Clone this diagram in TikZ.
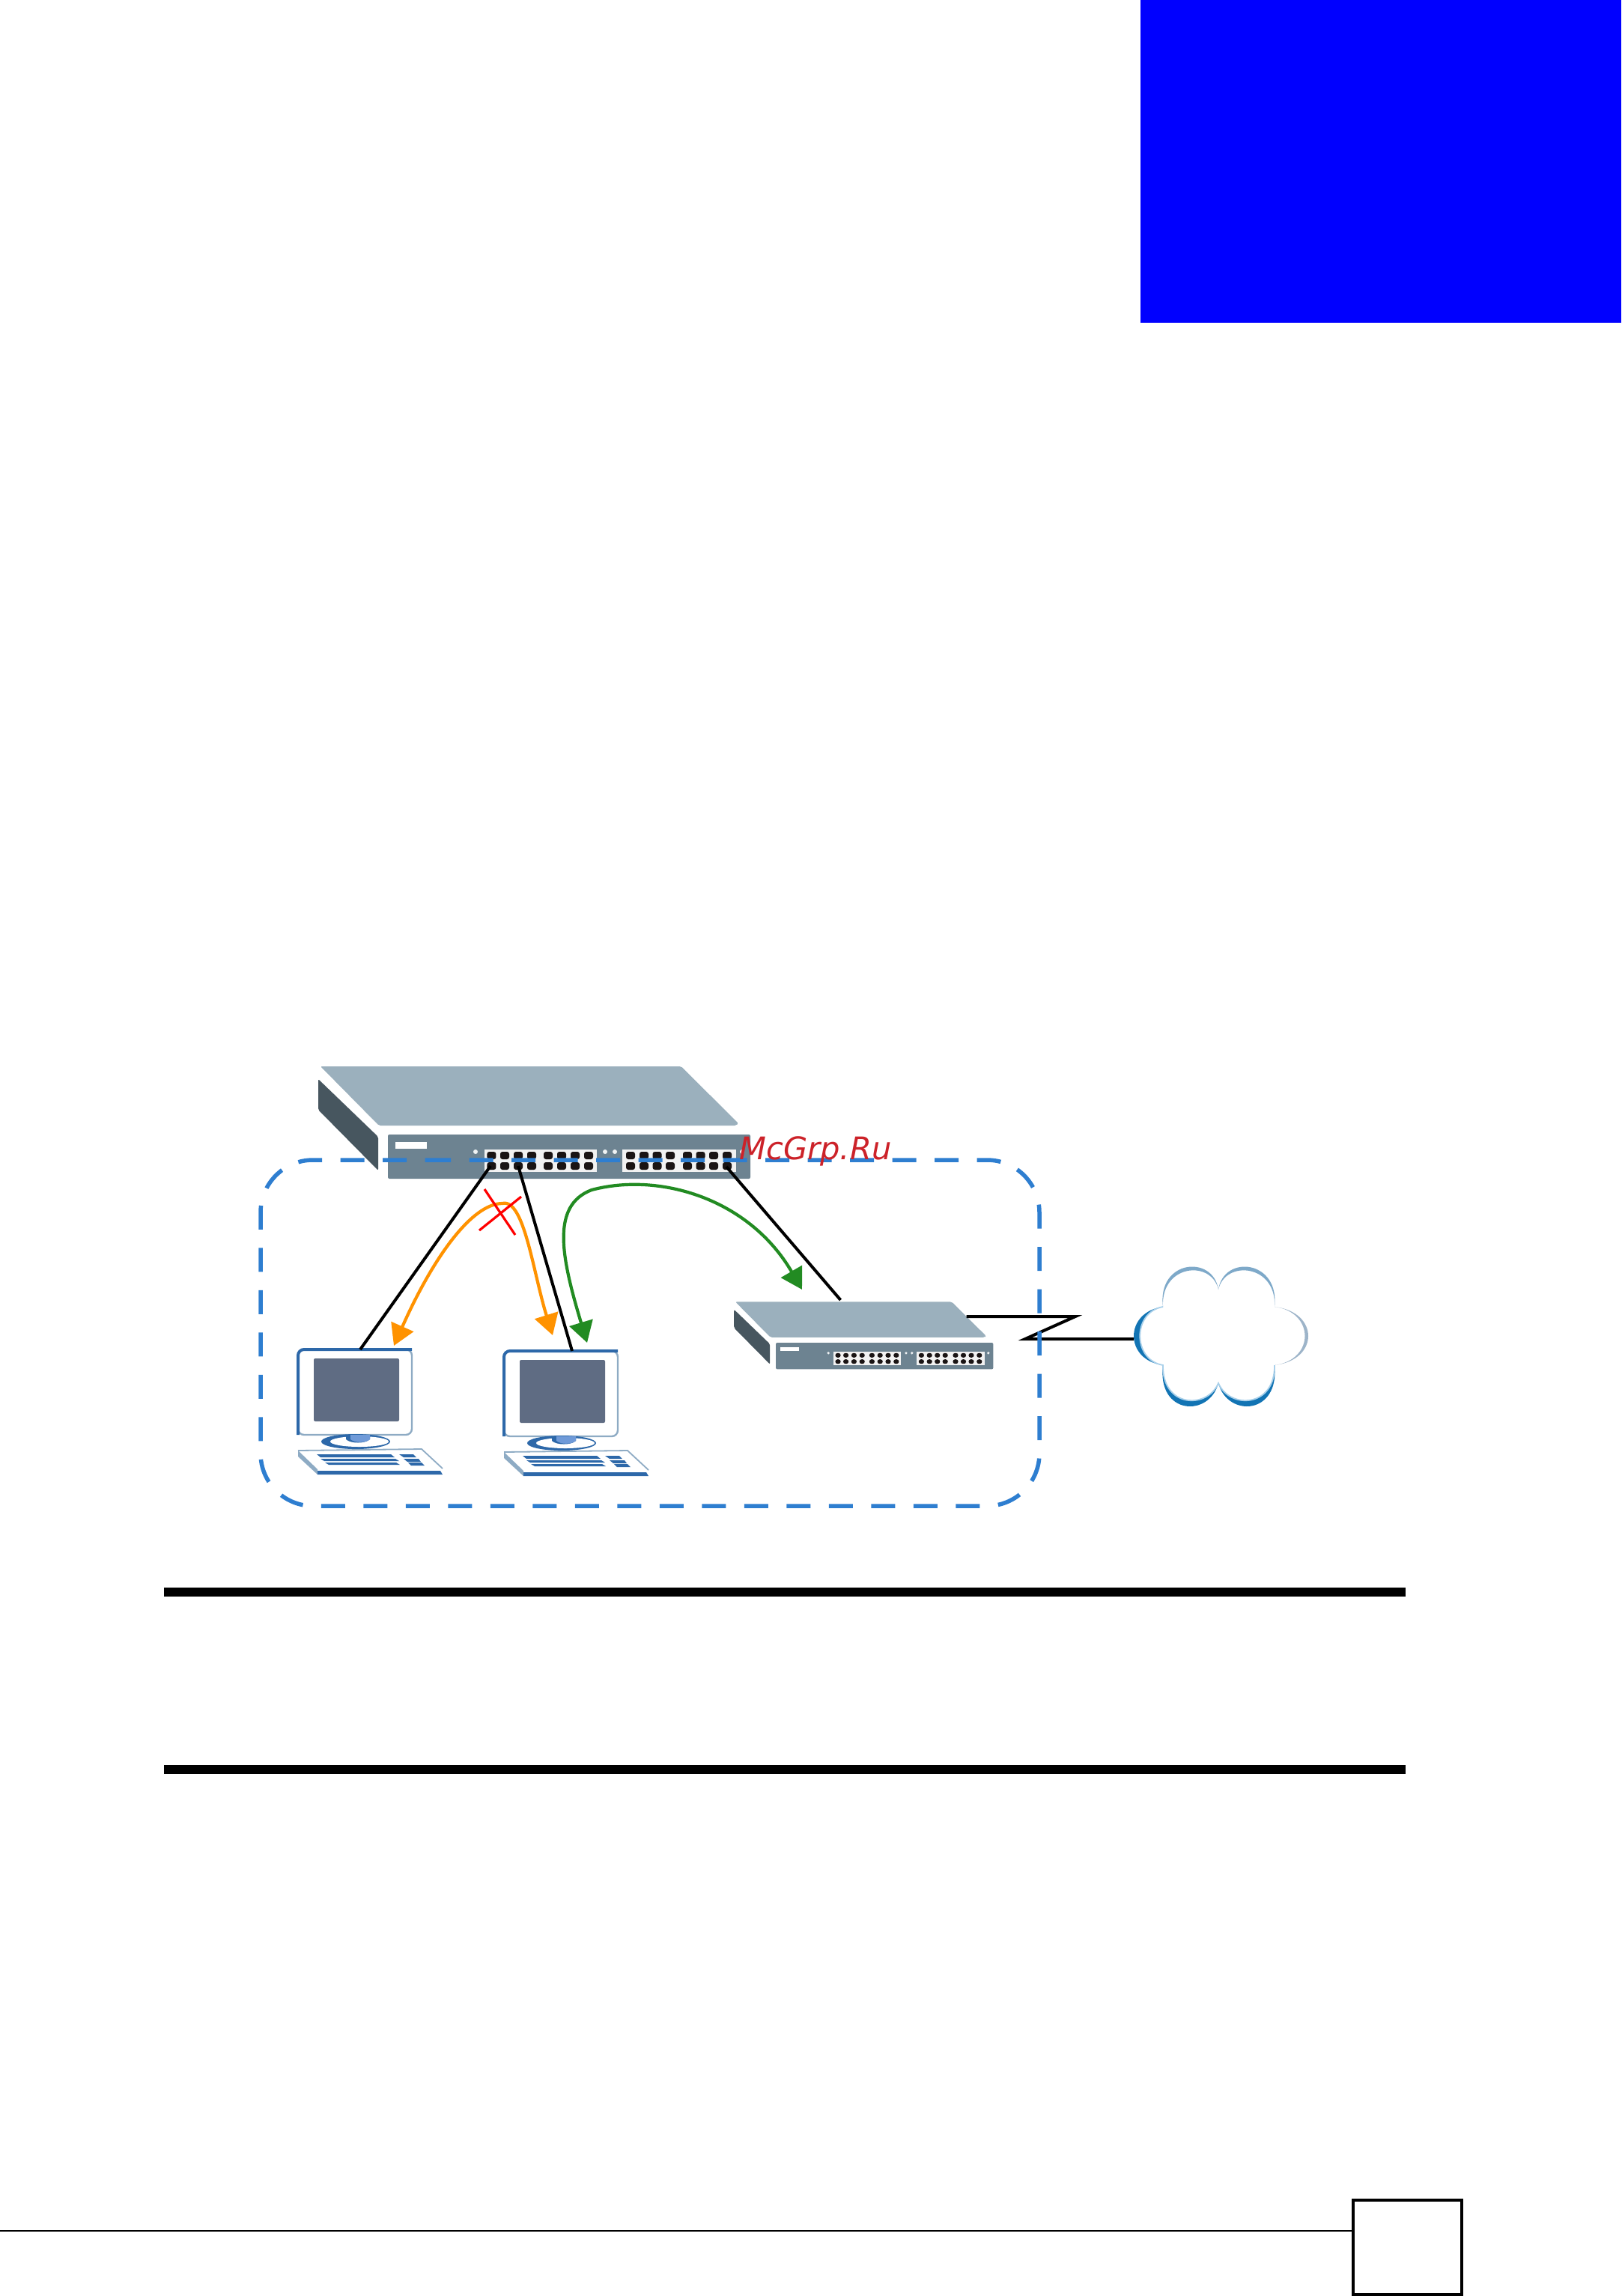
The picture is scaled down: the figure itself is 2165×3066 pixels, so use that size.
\documentclass[tikz,border=0pt]{standalone}
\usepackage{fontspec}
\setmainfont{DejaVu Sans}
\usetikzlibrary{arrows.meta}
\definecolor{swtop}{HTML}{9BB0BD}
\definecolor{swdark}{HTML}{47565F}
\definecolor{swfront}{HTML}{6D8391}
\definecolor{portk}{HTML}{1A1414}
\definecolor{pcblue}{HTML}{2D68A9}
\definecolor{pcedge}{HTML}{8EABC4}
\definecolor{pcscreen}{HTML}{5F6C83}
\definecolor{pcneck}{HTML}{6F9AD8}
\definecolor{zoneblue}{HTML}{2E7ED0}
\definecolor{flowor}{HTML}{FF9200}
\definecolor{flowgr}{HTML}{228B22}
\definecolor{cloudd}{HTML}{1274B4}
\definecolor{cloudt}{HTML}{7EA9C9}
\definecolor{cloudr}{HTML}{9DB4C9}
\definecolor{cloudsoft}{HTML}{A9D0EA}
\definecolor{wmred}{HTML}{CC2229}
\tikzset{
  link/.style={draw=black,line width=2pt},
  flowor/.style={draw=flowor,line width=2.1pt,{Triangle[length=14pt,width=16pt]}-{Triangle[length=14pt,width=16pt]}},
  flowgr/.style={draw=flowgr,line width=2.1pt,{Triangle[length=14pt,width=16pt]}-{Triangle[length=14pt,width=16pt]}},
  blockx/.style={draw=red,line width=1.6pt},
  zone/.style={draw=zoneblue,line width=2.75pt,dash pattern=on 16pt off 12.25pt,rounded corners=35pt},
  heavyrule/.style={fill=black},
  portmark/.style={fill=portk,rounded corners=1.5pt},
  cloudsoftline/.style={draw=cloudsoft,line width=.9pt},
  switchicon/.pic={
    \fill[swtop,rounded corners=1pt] (-90,-91) -- (391.5,-91) -- (468,-15) -- (465,-12) -- (-12,-12) -- cycle;
    \fill[swdark,rounded corners=1pt] (-93,-74) -- (-13,3) -- (-13,48) -- (-93,-33) -- cycle;
    \fill[swfront,rounded corners=1pt] (0,0) rectangle (484,59);
    \fill[white] (10,10) rectangle (52,19);
    \fill[white!95!black] (129,20) rectangle (279,50);
    \fill[white!95!black] (313,20) rectangle (465,50);
    \foreach \px in {138.4,156,174,192,214,232,250,268,324,342,359.5,377,400,417.5,435,453}{
      \foreach \py in {28,42}{
        \fill[portmark] (\px-6,\py-5) rectangle (\px+6,\py+5);
      }
    }
    \foreach \px in {117,290,303,473}{
      \fill[white!90!swfront] (\px,23) circle[radius=3];
    }
  },
  pcicon/.pic={
    \fill[white] (0,0) rectangle (193,167);
    \draw[pcedge,line width=1.2pt,rounded corners=4pt] (0,0) rectangle (152,114);
    \draw[pcblue,line width=2pt,rounded corners=4pt] (0,114) -- (0,0) -- (152,0);
    \fill[pcscreen,rounded corners=1pt] (21,12) rectangle (135,96);
    \fill[pcblue] (77,123) ellipse[x radius=46,y radius=10];
    \fill[white] (82,123) ellipse[x radius=39,y radius=7];
    \fill[pcblue] (64,114) -- (96,114) -- (96,120) .. controls (90,126) and (70,126) .. (64,120) -- cycle;
    \fill[pcneck] (70,114) -- (96,114) -- (96,120) .. controls (90,125) and (76,125) .. (70,120) -- cycle;
    \fill[white] (0,135) -- (165,133) -- (193,159) -- (193,167) -- (26,167) -- (0,143) -- cycle;
    \draw[pcedge,line width=.9pt] (0,135) -- (165,133) -- (193,159);
    \fill[pcedge] (0,135) -- (26,160) -- (26,167) -- (0,143) -- cycle;
    \fill[pcblue] (26,162) -- (190,162) -- (193,167) -- (26,167) -- cycle;
    \fill[pcblue] (25,140) -- (124,140) -- (129,144) -- (30,144) -- cycle;
    \fill[pcblue] (30,146) -- (130,146) -- (135,149) -- (35,149) -- cycle;
    \fill[pcblue] (36,151) -- (131,151) -- (136,154) -- (41,154) -- cycle;
    \fill[pcblue] (135,140) -- (154,140) -- (158,144) -- (141,144) -- cycle;
    \fill[pcblue] (141,146) -- (161,146) -- (164,150) -- (146,150) -- cycle;
    \fill[pcblue] (147,151) -- (165,151) -- (169,155) -- (151,155) -- cycle;
  },
}
\begin{document}
\begin{tikzpicture}[x=0.5pt,y=-0.5pt]
\useasboundingbox (0,0) rectangle (2165,3066);
% page furniture
\fill[blue] (1523,0) rectangle (2165,431);
\fill[heavyrule] (219,2120) rectangle (1877,2132);
\fill[heavyrule] (219,2357) rectangle (1877,2369);
\node[draw=black,line width=2pt,minimum width=72.5pt,minimum height=63pt,inner sep=0pt,outer sep=0pt,anchor=north west] (pagebox) at (1807,2938) {};
\coordinate (footstart) at (0,2979);
\draw[black,line width=1pt] (footstart) -- (footstart -| pagebox.west);
% devices
\pic at (518,1515) {switchicon};
\pic[scale=0.6] at (1036,1793) {switchicon};
\pic at (398,1802) {pcicon};
\pic at (673,1804) {pcicon};
% cloud
\fill[white] (1553,1745) .. controls (1545,1682) and (1620,1675) .. (1627,1722)
  .. controls (1634,1675) and (1709,1682) .. (1702,1745)
  .. controls (1762,1752) and (1762,1816) .. (1702,1823)
  .. controls (1709,1890) and (1639,1893) .. (1627,1847)
  .. controls (1615,1893) and (1545,1890) .. (1553,1823)
  .. controls (1501,1816) and (1501,1752) .. (1553,1745) -- cycle;
\fill[cloudt] (1553,1745) .. controls (1545,1682) and (1620,1675) .. (1627,1722)
  .. controls (1618,1682) and (1550,1688) .. (1553,1745) -- cycle;
\fill[cloudt] (1627,1722) .. controls (1634,1675) and (1709,1682) .. (1702,1745)
  .. controls (1705,1688) and (1636,1682) .. (1627,1722) -- cycle;
\fill[cloudr] (1702,1745) .. controls (1762,1752) and (1762,1816) .. (1702,1823)
  .. controls (1756,1816) and (1756,1752) .. (1702,1745) -- cycle;
\fill[cloudd] (1702,1823) .. controls (1709,1890) and (1639,1893) .. (1627,1847)
  .. controls (1642,1882) and (1703,1880) .. (1702,1823) -- cycle;
\fill[cloudd] (1627,1847) .. controls (1615,1893) and (1545,1890) .. (1553,1823)
  .. controls (1552,1880) and (1612,1882) .. (1627,1847) -- cycle;
\fill[cloudd] (1553,1823) .. controls (1501,1816) and (1501,1752) .. (1553,1745)
  .. controls (1512,1752) and (1512,1816) .. (1553,1823) -- cycle;
\draw[cloudsoftline] (1702,1823) .. controls (1703,1880) and (1642,1882) .. (1627,1847)
  .. controls (1612,1882) and (1552,1880) .. (1553,1823)
  .. controls (1512,1816) and (1512,1752) .. (1553,1745);
% connector end points
\coordinate (portA) at (655,1557);
\coordinate (portB) at (692,1557);
\coordinate (portC) at (970,1558);
\coordinate (pcAtop) at (481,1802);
\coordinate (pcBtop) at (764,1804);
\coordinate (swTop) at (1122.5,1736);
\coordinate (swSide) at (1290.5,1758);
\coordinate (zigA) at (1436,1758);
\coordinate (zigB) at (1369,1788);
\coordinate (cloudW) at (1514,1788);
\draw[link] (portA) -- (pcAtop);
\draw[link] (portB) -- (pcBtop);
\draw[link] (portC) -- (swTop);
\draw[link,line join=miter] (swSide) -- (zigA) -- (zigB) -- (cloudW);
% traffic arrows
\coordinate (orA) at (526,1797);
\coordinate (orM) at (671,1607);
\coordinate (orB) at (738,1783);
\draw[flowor] (orA) .. controls (578,1680) and (630,1607) .. (orM) .. controls (700,1600) and (712,1700) .. (orB);
\coordinate (grA) at (784,1793);
\coordinate (grM) at (790,1589);
\coordinate (grB) at (1071,1722);
\draw[flowgr] (grA) .. controls (750,1680) and (735,1610) .. (grM) .. controls (880,1565) and (1000,1600) .. (grB);
% blocked mark
\coordinate (xa) at (647,1588);
\coordinate (xb) at (688,1649);
\coordinate (xc) at (696,1598);
\coordinate (xd) at (640,1643);
\draw[blockx] (xa) -- (xb);
\draw[blockx] (xc) -- (xd);
% zone
\draw[zone] (500,1549) -- (1388,1549) -- (1388,2011) -- (348,2011) -- (348,1549) -- cycle;
% watermark
\node[anchor=base west,inner sep=0pt,text=wmred,font=\fontsize{20.8pt}{23pt}\selectfont\itshape] (wm) at (987,1548) {McGrp.Ru};
\end{tikzpicture}
\end{document}
